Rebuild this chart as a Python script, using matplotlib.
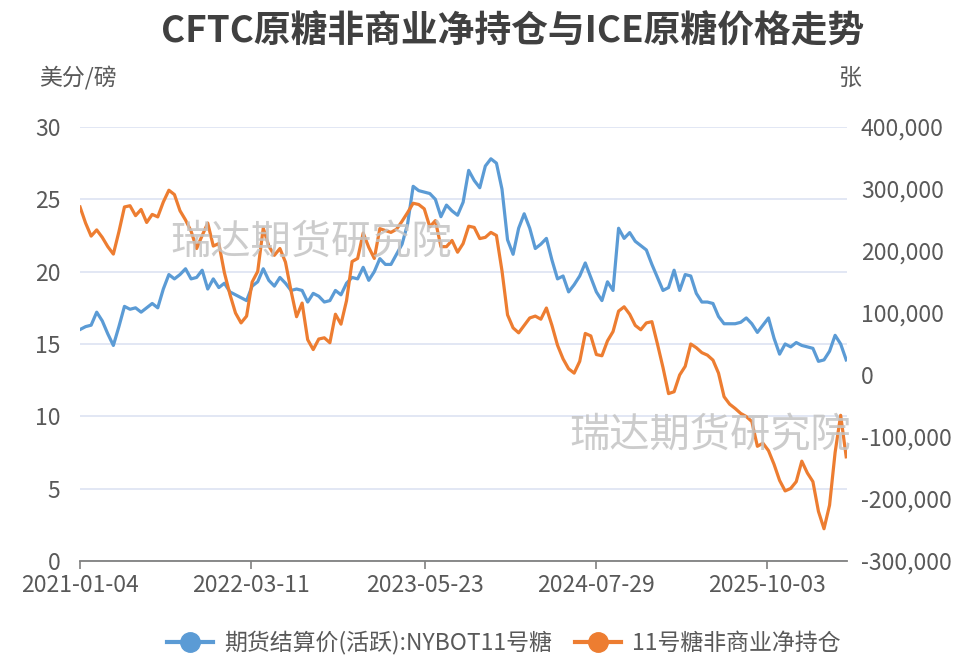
import matplotlib
matplotlib.use("Agg")
import matplotlib.pyplot as plt
import matplotlib.ticker as mticker
from matplotlib.lines import Line2D
import pandas as pd

plt.rcParams["font.family"] = ["Noto Sans CJK SC", "DejaVu Sans"]

# biweekly sample dates (Mondays), 2021-01-04 .. 2026-04-20
dates = pd.date_range("2021-01-04", periods=139, freq="14D")

# ICE raw sugar settlement (US cents / lb)
price = [
    16.0, 16.2, 16.3, 17.2, 16.6, 15.7, 14.9, 16.2, 17.6, 17.4,
    17.5, 17.2, 17.5, 17.8, 17.5, 18.8, 19.8, 19.5, 19.8, 20.2,
    19.5, 19.6, 20.1, 18.8, 19.5, 18.9, 19.2, 18.6, 18.4, 18.2,
    18.0, 19.0, 19.3, 20.2, 19.4, 19.0, 19.6, 19.2, 18.7, 18.8,
    18.7, 17.9, 18.5, 18.3, 17.9, 18.0, 18.7, 18.4, 19.2, 19.6,
    19.5, 20.3, 19.4, 20.0, 20.9, 20.5, 20.5, 21.2, 21.9, 23.3,
    25.9, 25.6, 25.5, 25.4, 25.0, 23.8, 24.6, 24.2, 23.9, 24.8,
    27.0, 26.3, 25.8, 27.3, 27.8, 27.5, 25.7, 22.2, 21.2, 23.0,
    24.0, 23.0, 21.6, 21.9, 22.3, 20.8, 19.5, 19.7, 18.6, 19.1,
    19.7, 20.6, 19.6, 18.6, 18.0, 19.3, 18.7, 23.0, 22.3, 22.7,
    22.1, 21.8, 21.5, 20.5, 19.6, 18.7, 18.9, 20.1, 18.7, 19.8,
    19.7, 18.5, 17.9, 17.9, 17.8, 16.9, 16.4, 16.4, 16.4, 16.5,
    16.8, 16.4, 15.8, 16.3, 16.8, 15.4, 14.3, 15.0, 14.8, 15.1,
    14.9, 14.8, 14.7, 13.8, 13.9, 14.5, 15.6, 15.0, 13.9,
]

# CFTC non-commercial net position, sugar No.11 (thousand contracts)
net_pos_k = [
    271, 245, 224, 234, 222, 207, 195, 231, 271, 273,
    257, 267, 246, 259, 255, 279, 298, 291, 265, 250,
    232, 204, 225, 245, 208, 212, 165, 130, 100, 84,
    95, 150, 167, 237, 208, 193, 204, 182, 136, 94,
    116, 57, 41, 58, 60, 52, 98, 82, 120, 183,
    188, 229, 206, 188, 236, 233, 230, 235, 248, 262,
    277, 275, 268, 239, 249, 207, 207, 217, 198, 212,
    240, 238, 220, 222, 230, 225, 168, 97, 76, 68,
    80, 92, 95, 90, 108, 80, 48, 26, 10, 3,
    22, 67, 63, 33, 31, 55, 70, 103, 110, 98,
    80, 73, 84, 86, 50, 12, -30, -27, 0, 14,
    50, 44, 36, 32, 24, 3, -35, -47, -54, -62,
    -67, -75, -115, -110, -122, -144, -170, -187, -183, -172,
    -139, -158, -172, -220, -248, -210, -125, -65, -132,
]
net_pos = [v * 1000 for v in net_pos_k]

tick_dates = pd.to_datetime(["2021-01-04", "2022-03-11", "2023-05-23",
                             "2024-07-29", "2025-10-03"])

BLUE = "#5b9bd5"
ORANGE = "#ed7d31"
TXT = "#595959"
GRID = "#dde3f2"
FS = 16.5

fig = plt.figure(figsize=(9.69, 6.6), dpi=100)
ax = fig.add_axes([0.0826, 0.15, 0.7915, 0.6576])
ax2 = ax.twinx()

ax.plot(dates, price, color=BLUE, lw=2.3, zorder=3)
ax2.plot(dates, net_pos, color=ORANGE, lw=2.3, zorder=3)

ax.set_ylim(0, 30)
ax.set_yticks(range(0, 31, 5))
ax2.set_ylim(-300000, 400000)
ax2.set_yticks(range(-300000, 400001, 100000))
ax2.yaxis.set_major_formatter(mticker.FuncFormatter(lambda v, p: f"{int(v):,}"))

ax.set_xlim(pd.Timestamp("2021-01-04"), pd.Timestamp("2026-04-22"))
ax.set_xticks(tick_dates)
ax.set_xticklabels([d.strftime("%Y-%m-%d") for d in tick_dates])

ax.grid(axis="y", color=GRID, lw=1.2, zorder=0)
ax.set_axisbelow(True)
for a in (ax, ax2):
    for s in ("top", "left", "right"):
        a.spines[s].set_visible(False)
ax2.spines["bottom"].set_visible(False)
ax.spines["bottom"].set_color("#808080")
ax.spines["bottom"].set_linewidth(1.3)

ax.tick_params(axis="x", colors="#808080", length=6, width=1.2, labelsize=FS,
               labelcolor=TXT, pad=3)
ax.tick_params(axis="y", length=0, labelsize=FS, labelcolor=TXT, pad=14)
ax2.tick_params(axis="y", length=0, labelsize=FS, labelcolor=TXT, pad=10)

# watermarks
fig.text(0.321, 0.632, "瑞达期货研究院", fontsize=29, color="#c4c4c4",
         ha="center", va="center", alpha=0.85, zorder=1)
fig.text(0.733, 0.34, "瑞达期货研究院", fontsize=29, color="#c4c4c4",
         ha="center", va="center", alpha=0.85, zorder=1)

fig.text(0.529, 0.952, "CFTC原糖非商业净持仓与ICE原糖价格走势", fontsize=26.5,
         fontweight="bold", color="#404040", ha="center", va="center")
fig.text(0.040, 0.882, "美分/磅", fontsize=FS, color=TXT, ha="left", va="center")
fig.text(0.866, 0.882, "张", fontsize=FS, color=TXT, ha="left", va="center")

handles = [
    Line2D([], [], color=BLUE, lw=3, marker="o", markersize=14),
    Line2D([], [], color=ORANGE, lw=3, marker="o", markersize=14),
]
fig.legend(handles, ["期货结算价(活跃):NYBOT11号糖", "11号糖非商业净持仓"],
           loc="center", bbox_to_anchor=(0.52, 0.026), ncol=2, frameon=False,
           fontsize=FS, labelcolor=TXT, handlelength=2.0, columnspacing=1.0,
           handletextpad=0.5)

fig.savefig("out.png", dpi=100)
